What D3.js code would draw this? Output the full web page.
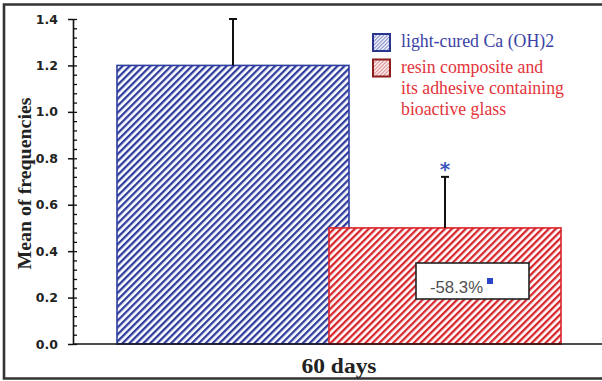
<!DOCTYPE html>
<html>
<head>
<meta charset="utf-8">
<script src="https://cdn.jsdelivr.net/npm/d3@7"></script>
<style>
  html, body { margin: 0; padding: 0; background: #fff; }
  svg { display: block; }
</style>
</head>
<body>
<svg id="chart" width="602" height="381"></svg>
<script>
// Mean of frequencies at 60 days, two treatment groups
const seriesNames = ["light-cured Ca (OH)2", "resin composite and its adhesive containing bioactive glass"];
const legendLines = [["light-cured Ca (OH)2"], ["resin composite and", "its adhesive containing", "bioactive glass"]];
const means = [1.2, 0.5];
const errors = [0.2, 0.22];
const groupLabel = "60 days";
const yTicks = [0, 0.2, 0.4, 0.6, 0.8, 1.0, 1.2, 1.4];
const significance = [false, true];

const colors = {
  blue: { line: "#2f3d9e", text: "#3a42a6", swatch: "#2a3590", light: "#8d95cf" },
  red:  { line: "#d9262c", text: "#e3343a", swatch: "#8e1c1c", light: "#e08f8f" }
};
const palette = [colors.blue, colors.red];

const svg = d3.select("#chart");
const x0 = 73, yBottom = 344, yTop = 19;

const y = d3.scaleLinear().domain([0, 1.4]).range([yBottom, yTop]);
// bar centres, bars overlap each other
const x = d3.scalePoint().domain(d3.range(means.length)).range([233, 445]);
const barW = 232;

// hatch patterns
const defs = svg.append("defs");
function hatch(id, color, period, width) {
  const p = defs.append("pattern")
    .attr("id", id)
    .attr("patternUnits", "userSpaceOnUse")
    .attr("width", period).attr("height", 10)
    .attr("patternTransform", "rotate(45)");
  p.append("rect").attr("width", period).attr("height", 10).attr("fill", "#fff");
  p.append("rect").attr("width", width).attr("height", 10).attr("fill", color);
}
palette.forEach((c, i) => {
  hatch("hatch" + i, c.line, 4.9, 2.3);
  hatch("hatchL" + i, c.light, 2.6, 1.3);
});

// outer frame (open on the right)
svg.append("path")
  .attr("d", "M602,4.5 H4 V378.5 H602")
  .attr("fill", "none").attr("stroke", "#333").attr("stroke-width", 2.6);

// bars
svg.selectAll("rect.bar").data(means).enter().append("rect")
  .attr("class", "bar")
  .attr("x", (d, i) => x(i) - barW / 2)
  .attr("y", d => y(d))
  .attr("width", barW)
  .attr("height", d => y(0) - y(d))
  .attr("fill", (d, i) => `url(#hatch${i})`)
  .attr("stroke", (d, i) => palette[i].line)
  .attr("stroke-width", 1.6);

// error bars (upper only)
const eb = svg.selectAll("g.err").data(means).enter().append("g").attr("class", "err");
eb.append("line")
  .attr("x1", (d, i) => x(i)).attr("x2", (d, i) => x(i))
  .attr("y1", d => y(d)).attr("y2", (d, i) => y(d + errors[i]))
  .attr("stroke", "#111").attr("stroke-width", 2);
eb.append("line")
  .attr("x1", (d, i) => x(i) - 4).attr("x2", (d, i) => x(i) + 4)
  .attr("y1", (d, i) => y(d + errors[i])).attr("y2", (d, i) => y(d + errors[i]))
  .attr("stroke", "#111").attr("stroke-width", 2);

// significance marker
svg.selectAll("text.sig").data(means.map((d, i) => ({ d, i })).filter(o => significance[o.i]))
  .enter().append("text").attr("class", "sig")
  .attr("x", o => x(o.i)).attr("y", o => y(o.d + errors[o.i]) - 1)
  .attr("text-anchor", "middle")
  .attr("font-family", "DejaVu Sans, sans-serif").attr("font-weight", "bold").attr("font-size", 20)
  .attr("fill", "#3d55c0").text("*");

// percentage change annotation
const change = (means[1] - means[0]) / means[0] * 100;
const ann = svg.append("g").attr("transform", `translate(${x(1) - 29},263)`);
ann.append("rect").attr("width", 113).attr("height", 36)
  .attr("fill", "#fff").attr("stroke", "#222").attr("stroke-width", 1.6);
ann.append("text").attr("x", 14).attr("y", 30)
  .attr("font-family", "'Liberation Sans', sans-serif").attr("font-size", 16.5)
  .attr("textLength", 53).attr("lengthAdjust", "spacingAndGlyphs")
  .attr("fill", "#505050").text(change.toFixed(1) + "%");
ann.append("rect").attr("x", 71).attr("y", 15).attr("width", 6).attr("height", 6).attr("fill", "#2b46c8");

// axes
const yAxis = svg.append("g").attr("transform", `translate(${x0},0)`)
  .call(d3.axisLeft(y).tickValues(yTicks).tickFormat(d3.format(".1f")).tickSizeInner(5).tickSizeOuter(0).tickPadding(10));
yAxis.select(".domain").attr("stroke", "#111").attr("stroke-width", 1.6);
yAxis.selectAll(".tick line").attr("stroke", "#111").attr("stroke-width", 1.5);
yAxis.selectAll(".tick text")
  .attr("font-family", "DejaVu Sans, sans-serif").attr("font-weight", "bold")
  .attr("font-size", 12.5).attr("fill", "#222");

const minor = svg.append("g").attr("transform", `translate(${x0},0)`)
  .call(d3.axisRight(y).tickValues(d3.range(0, 1.4001, 0.04)).tickFormat("").tickSizeInner(4).tickSizeOuter(0));
minor.select(".domain").remove();
minor.selectAll(".tick line").attr("stroke", "#111").attr("stroke-width", 1.3);

svg.append("line")
  .attr("x1", x0).attr("x2", 602).attr("y1", y(0)).attr("y2", y(0))
  .attr("stroke", "#111").attr("stroke-width", 1.6);

// axis titles
svg.append("text")
  .attr("transform", `translate(31,${(yTop + yBottom) / 2 + 2}) rotate(-90)`)
  .attr("text-anchor", "middle")
  .attr("font-family", "'Liberation Serif', serif").attr("font-weight", "bold")
  .attr("font-size", 18).attr("fill", "#222")
  .attr("textLength", 172).attr("lengthAdjust", "spacingAndGlyphs")
  .text("Mean of frequencies");

svg.append("text")
  .attr("x", (x(0) + x(1)) / 2).attr("y", 373)
  .attr("text-anchor", "middle")
  .attr("font-family", "'Liberation Serif', serif").attr("font-weight", "bold")
  .attr("font-size", 20).attr("fill", "#222")
  .attr("textLength", 75).attr("lengthAdjust", "spacingAndGlyphs")
  .text(groupLabel);

// legend
const legend = svg.append("g").attr("transform", "translate(373,34)");
const rowY = [0, 25.5];
legendLines.forEach((lines, i) => {
  const g = legend.append("g").attr("transform", `translate(0,${rowY[i]})`);
  g.append("rect").attr("x", 0).attr("y", 0).attr("width", 17).attr("height", 17)
    .attr("fill", `url(#hatchL${i})`).attr("stroke", palette[i].swatch).attr("stroke-width", 2);
  const t = g.append("text")
    .attr("font-family", "'Liberation Serif', 'DejaVu Serif', serif").attr("font-size", 17.8)
    .attr("fill", palette[i].text);
  lines.forEach((ln, k) => {
    t.append("tspan").attr("x", 28).attr("y", 13 + k * 21).text(ln);
  });
});
</script>
</body>
</html>
